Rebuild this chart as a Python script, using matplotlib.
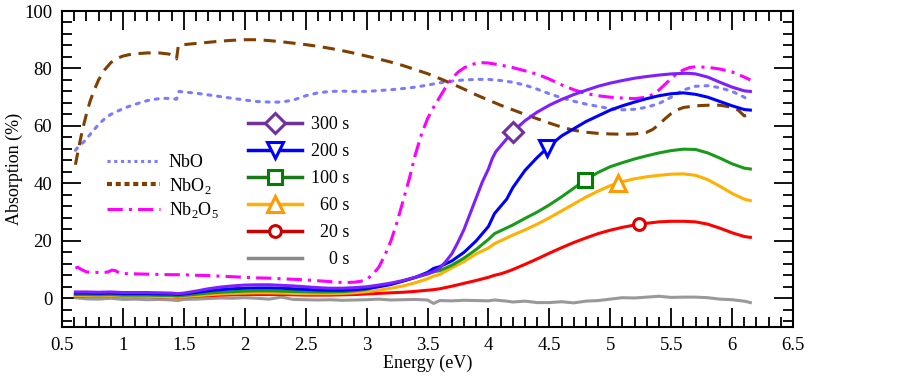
import numpy as np
import matplotlib
matplotlib.use("Agg")
import matplotlib.pyplot as plt
from matplotlib.lines import Line2D
from matplotlib.ticker import MultipleLocator

plt.rcParams['font.family'] = ['Liberation Serif', 'DejaVu Serif']
plt.rcParams['mathtext.fontset'] = 'custom'
plt.rcParams['mathtext.rm'] = 'Liberation Serif'

# ---------------- data ----------------
nbo_x = [0.61, 0.64, 0.68, 0.72, 0.76, 0.80, 0.85, 0.90, 0.95, 1.00, 1.05, 1.10, 1.15, 1.20, 1.25,
         1.30, 1.35, 1.40, 1.44, 1.46, 1.50, 1.60, 1.70, 1.80, 1.90, 2.00, 2.10, 2.20, 2.30, 2.40,
         2.50, 2.60, 2.70, 2.80, 2.90, 3.00, 3.10, 3.20, 3.30, 3.40, 3.50, 3.60, 3.70, 3.80, 3.90,
         4.00, 4.10, 4.20, 4.30, 4.40, 4.50, 4.60, 4.70, 4.80, 4.90, 5.00, 5.10, 5.20, 5.30, 5.40,
         5.50, 5.60, 5.70, 5.80, 5.90, 6.00, 6.10, 6.15]
nbo_y = [51.5, 53, 54.5, 56.5, 58.5, 60.5, 62.5, 64, 65, 66, 66.8, 67.5, 68.2, 68.8, 69.2,
         69.5, 69.6, 69.5, 69.3, 72, 71.8, 71.4, 70.8, 70.2, 69.6, 69.0, 68.5, 68.3, 68.3, 69.0,
         70.5, 71.5, 72, 72.1, 72.0, 72.0, 72.3, 72.6, 73, 73.5, 74.2, 75, 75.6, 76, 76.2,
         76.2, 75.8, 75.2, 74.2, 72.8, 71.2, 69.8, 68.6, 67.6, 66.8, 66, 65.6, 65.8, 66.5, 67.8,
         70, 72.5, 73.8, 74, 73.3, 72, 70, 68.5]

nbo2_x = [0.61, 0.64, 0.67, 0.70, 0.73, 0.76, 0.80, 0.85, 0.90, 0.95, 1.00, 1.05, 1.10, 1.20, 1.30,
          1.38, 1.42, 1.44, 1.455, 1.50, 1.60, 1.70, 1.80, 1.90, 2.00, 2.10, 2.20, 2.30, 2.40, 2.50,
          2.60, 2.70, 2.80, 2.90, 3.00, 3.10, 3.20, 3.30, 3.40, 3.50, 3.60, 3.70, 3.80, 3.90, 4.00,
          4.10, 4.20, 4.30, 4.40, 4.50, 4.60, 4.70, 4.80, 4.90, 5.00, 5.10, 5.20, 5.30, 5.35, 5.40,
          5.45, 5.50, 5.55, 5.60, 5.70, 5.80, 5.90, 6.00, 6.05, 6.10, 6.15]
nbo2_y = [46.5, 53, 59, 64, 68.5, 72, 76, 79.5, 82, 83.5, 84.3, 84.8, 85.1, 85.4, 85.4,
          85.0, 84.3, 83.3, 88, 88.3, 88.7, 89.1, 89.5, 89.8, 90.0, 90.0, 89.7, 89.3, 88.8, 88.3,
          87.7, 87.0, 86.2, 85.3, 84.3, 83.3, 82.2, 81, 79.6, 78.2, 76.5, 74.7, 72.8, 70.8, 69,
          67.2, 65.6, 64, 62.5, 61, 59.6, 58.5, 57.8, 57.4, 57.2, 57.1, 57.2, 57.8, 58.8, 60.5,
          62.5, 64.3, 65.6, 66.4, 67, 67.2, 67.2, 66.5, 65.5, 63.5, 64]

nb2o5_x = [0.61, 0.63, 0.66, 0.70, 0.75, 0.80, 0.85, 0.88, 0.91, 0.94, 0.97, 1.00, 1.10, 1.20, 1.30,
           1.40, 1.50, 1.60, 1.70, 1.80, 1.90, 2.00, 2.10, 2.20, 2.30, 2.40, 2.50, 2.60, 2.70, 2.80,
           2.85, 2.90, 2.95, 3.00, 3.05, 3.10, 3.15, 3.20, 3.25, 3.30, 3.35, 3.40, 3.45, 3.50, 3.55,
           3.60, 3.65, 3.70, 3.75, 3.80, 3.85, 3.90, 3.95, 4.00, 4.10, 4.20, 4.30, 4.40, 4.50, 4.60,
           4.70, 4.80, 4.90, 5.00, 5.10, 5.20, 5.30, 5.35, 5.40, 5.45, 5.50, 5.55, 5.60, 5.65, 5.70,
           5.80, 5.90, 6.00, 6.10, 6.15]
nb2o5_y = [10.5, 10.8, 10, 9.2, 9, 9, 9, 9.2, 9.8, 9.6, 8.8, 8.6, 8.5, 8.4, 8.3,
           8.2, 8.2, 8.0, 7.9, 7.7, 7.5, 7.3, 7.1, 7.0, 6.8, 6.6, 6.4, 6.1, 5.8, 5.5,
           5.5, 5.6, 5.9, 6.5, 8.3, 10.8, 15, 20, 26.5, 34, 41.5, 50, 57, 62.5, 66.5,
           70, 73.5, 76.5, 78.7, 80.2, 81.2, 81.8, 82, 81.9, 81.2, 80.3, 79.2, 78, 76.3, 74.3,
           72.6, 71.3, 70.5, 70, 69.7, 69.5, 70, 71, 72.5, 74.5, 76.5, 78.3, 79.5, 80.3, 80.6,
           80.4, 79.8, 78.8, 77, 76]

t_x = [0.61, 0.7, 0.8, 0.9, 1.0, 1.1, 1.2, 1.3, 1.4, 1.45, 1.5, 1.6, 1.7, 1.8, 1.9,
       2.0, 2.1, 2.2, 2.3, 2.4, 2.5, 2.6, 2.7, 2.8, 2.9, 3.0, 3.1, 3.2, 3.3, 3.4,
       3.5, 3.55, 3.6, 3.7, 3.8, 3.9, 4.0, 4.05, 4.1, 4.15, 4.2, 4.3, 4.4, 4.5, 4.6,
       4.7, 4.8, 4.9, 5.0, 5.1, 5.2, 5.3, 5.4, 5.5, 5.6, 5.7, 5.8, 5.9, 6.0, 6.1, 6.15]

s300_x = [0.61, 0.7, 0.8, 0.9, 1.0, 1.1, 1.2, 1.3, 1.4, 1.45, 1.5, 1.6, 1.7, 1.8, 1.9,
          2.0, 2.1, 2.2, 2.3, 2.4, 2.5, 2.6, 2.7, 2.8, 2.9, 3.0, 3.1, 3.2, 3.3, 3.4,
          3.5, 3.55, 3.6, 3.65, 3.7, 3.75, 3.8, 3.85, 3.9, 3.95, 4.0, 4.03, 4.06, 4.1, 4.15,
          4.2, 4.3, 4.4, 4.5, 4.6, 4.7, 4.8, 4.9, 5.0, 5.1, 5.2, 5.3, 5.4, 5.5, 5.6,
          5.65, 5.7, 5.8, 5.9, 6.0, 6.1, 6.15]
s300_y = [2.2, 2.2, 2.1, 2.2, 2.0, 2.0, 2.0, 1.9, 1.8, 1.6, 1.8, 2.5, 3.3, 3.9, 4.3,
          4.6, 4.7, 4.7, 4.5, 4.3, 4.0, 3.7, 3.5, 3.5, 3.7, 4.0, 4.6, 5.3, 6.2, 7.3,
          8.6, 9.3, 10.5, 12.8, 15.5, 19.5, 24, 29.5, 35, 40.5, 45, 48.5, 51, 53, 55.5,
          58, 61.8, 64.8, 67.2, 69.2, 70.9, 72.4, 73.8, 74.9, 75.8, 76.6, 77.2, 77.7, 78.1, 78.3,
          78.3, 78.1, 77, 75.2, 73.5, 72.2, 72]
s200_y = [1.8, 1.8, 1.7, 1.8, 1.6, 1.6, 1.6, 1.5, 1.5, 1.3, 1.5, 2.0, 2.6, 3.0, 3.3,
          3.5, 3.6, 3.6, 3.5, 3.3, 3.1, 2.9, 2.8, 2.8, 3.0, 3.4, 4.0, 4.8, 6.0, 7.3,
          9.0, 10.4, 11.0, 13.0, 16.0, 20.0, 25.0, 29.5, 32.0, 34.5, 38.5, 44.5, 49.0, 53.0, 56.5,
          59.0, 61.5, 63.5, 65.5, 67.0, 68.3, 69.5, 70.5, 71.2, 71.5, 71.0, 70.0, 68.5, 67.0, 65.7, 65.5]
s100_y = [1.3, 1.3, 1.2, 1.3, 1.1, 1.1, 1.1, 1.0, 1.0, 0.8, 1.0, 1.4, 1.8, 2.1, 2.3,
          2.5, 2.6, 2.6, 2.5, 2.4, 2.3, 2.2, 2.2, 2.3, 2.6, 3.1, 4.2, 5.0, 6.0, 7.2,
          8.4, 9.2, 9.6, 11.5, 14.0, 17.0, 20.5, 22.5, 23.5, 24.5, 25.5, 27.8, 30.0, 32.5, 35.3,
          38.3, 41.3, 43.8, 45.8, 47.2, 48.5, 49.6, 50.6, 51.4, 51.9, 51.8, 50.6, 48.8, 46.8, 45.3, 45.0]
s60_y = [0.9, 0.9, 0.8, 0.9, 0.7, 0.7, 0.7, 0.6, 0.6, 0.4, 0.6, 0.9, 1.2, 1.5, 1.7,
         1.8, 1.9, 1.9, 1.8, 1.7, 1.6, 1.6, 1.6, 1.7, 1.9, 2.3, 2.8, 3.5, 4.3, 5.4,
         6.8, 7.7, 8.3, 10.6, 12.8, 15.5, 17.5, 19.0, 20.0, 21.0, 22.0, 23.8, 25.8, 28.0, 30.4,
         32.8, 35.2, 37.3, 39.2, 40.6, 41.6, 42.3, 42.8, 43.2, 43.3, 42.8, 41.3, 39.0, 36.5, 34.5, 34.0]
s20_y = [0.8, 0.8, 0.7, 0.9, 0.6, 0.6, 0.6, 0.5, 0.5, 0.3, 0.5, 0.7, 0.9, 1.1, 1.2,
         1.3, 1.3, 1.3, 1.3, 1.2, 1.1, 1.1, 1.1, 1.2, 1.3, 1.5, 1.7, 1.9, 2.1, 2.4,
         2.8, 3.0, 3.3, 4.2, 5.2, 6.2, 7.3, 8.0, 8.5, 9.2, 10.0, 11.8, 13.7, 15.7, 17.6,
         19.4, 21.0, 22.5, 23.7, 24.7, 25.5, 26.1, 26.6, 26.8, 26.8, 26.6, 25.8, 24.4, 22.8, 21.5, 21.2]
s0_y = [0.2, -0.2, -0.3, 0.0, -0.4, -0.3, -0.5, -0.4, -0.6, -0.8, -0.4, -0.3, -0.1, 0.1, 0.0,
        0.2, 0.0, -0.3, 0.4, -0.4, -0.5, -0.6, -0.5, -0.7, -0.6, -0.5, -0.3, -0.6, -0.5, -0.4,
        -0.6, -1.8, -0.8, -0.9, -0.7, -0.8, -0.9, -0.6, -0.8, -1.0, -1.3, -1.0, -1.5, -1.5, -1.2,
        -1.6, -1.0, -0.8, -0.3, 0.2, 0.1, 0.4, 0.7, 0.3, 0.4, 0.4, 0.2, -0.3, -0.5, -1.0, -1.5]

series_labels = ['300 s', '200 s', '100 s', '60 s', '20 s', '0 s']
marker_x = [4.20, 4.48, 4.79, 5.06, 5.24, None]

# ---------------- styles ----------------
line_cols = ['#7f1fff', '#0000ff', '#1a9a1a', '#ffb000', '#ff0000', '#999999']
mk_cols = ['#7030a0', '#0000ff', '#008000', '#ff9a00', '#e00000', '#999999']
leg_line_cols = ['#7030a0', '#0000ff', '#1a7a1a', '#ffb000', '#cc0000', '#888888']
markers = ['D', 'v', 's', '^', 'o', None]
msizes = [10, 12, 10, 11, 8.5, 0]

fig = plt.figure(figsize=(9.02, 3.78), dpi=100)
ax = fig.add_axes([62 / 902, 1 - 327 / 378, (793 - 62) / 902, (327 - 11) / 378])

# reference films
ax.plot(nbo_x, nbo_y, color='#7b7bff', lw=2.2, ls=(0, (1, 2.2)), dash_capstyle='round', zorder=2)
ax.plot(nbo2_x, nbo2_y, color='#7f3f00', lw=2.2, ls=(0, (4, 2.5)), zorder=2)
ax.plot(nb2o5_x, nb2o5_y, color='#ff00ff', lw=2.2, ls=(0, (5, 2, 1, 2)), zorder=2)

ys = [s300_y, s200_y, s100_y, s60_y, s20_y, s0_y]
xs = [s300_x, t_x, t_x, t_x, t_x, t_x]
for i in range(5, -1, -1):
    ax.plot(xs[i], ys[i], color=line_cols[i], lw=2.2, zorder=3 + (5 - i) * 0.01)
    if marker_x[i] is not None:
        my = np.interp(marker_x[i], xs[i], ys[i])
        ax.plot([marker_x[i]], [my], ls='none', marker=markers[i], ms=msizes[i],
                mfc='white', mec=mk_cols[i], mew=2.2, zorder=5)

ax.set_xlim(0.5, 6.5)
ax.set_ylim(-10, 100)
ax.xaxis.set_minor_locator(MultipleLocator(0.1))
ax.yaxis.set_minor_locator(MultipleLocator(4))
ax.set_xticks(np.arange(0.5, 6.51, 0.5))
ax.set_xticklabels(['0.5', '1', '1.5', '2', '2.5', '3', '3.5', '4', '4.5', '5', '5.5', '6', '6.5'])
ax.set_yticks([0, 20, 40, 60, 80, 100])
ax.tick_params(which='both', direction='in', top=True, right=True, labelsize=13.5, width=1.3)
ax.tick_params(which='major', length=14, pad=7)
ax.tick_params(which='minor', length=7)
for sp in ax.spines.values():
    sp.set_linewidth(1.5)

ax.set_xlabel('Energy (eV)', fontsize=13, labelpad=1)
ax.set_ylabel('Absorption (%)', fontsize=13, labelpad=1)

# legend 1: reference films
h1 = [Line2D([], [], color='#7b7bff', lw=2.2, ls=(0, (1, 1.2))),
      Line2D([], [], color='#7f3f00', lw=3, ls=(0, (1.2, 0.9))),
      Line2D([], [], color='#ff00ff', lw=2.2, ls=(0, (5, 2, 1, 2)))]
leg1 = ax.legend(h1, ['NbO', r'NbO$_2$', r'Nb$_2$O$_5$'], loc='upper left',
                 bbox_to_anchor=(0.062, 0.547), frameon=False, fontsize=13,
                 handlelength=2.9, handletextpad=0.5, labelspacing=0.25, borderpad=0, borderaxespad=0)
ax.add_artist(leg1)

# legend 2: deposition times
h2 = []
for i in range(6):
    h2.append(Line2D([], [], color=leg_line_cols[i], lw=2.5, marker=markers[i] if markers[i] else None,
                     ms=msizes[i] if markers[i] else 0, mfc='white', mec=mk_cols[i] if i != 4 else '#cc0000', mew=2.2))
pad_labels = ['300 s', '200 s', '100 s', '\u200760 s', '\u200720 s', '\u2007\u20070 s']
leg2 = ax.legend(h2, pad_labels, loc='upper left', bbox_to_anchor=(0.254, 0.667), frameon=False,
                 fontsize=13, handlelength=3.0, handletextpad=0.5, labelspacing=0.55,
                 borderpad=0, borderaxespad=0)

fig.savefig('out.png', dpi=100)
